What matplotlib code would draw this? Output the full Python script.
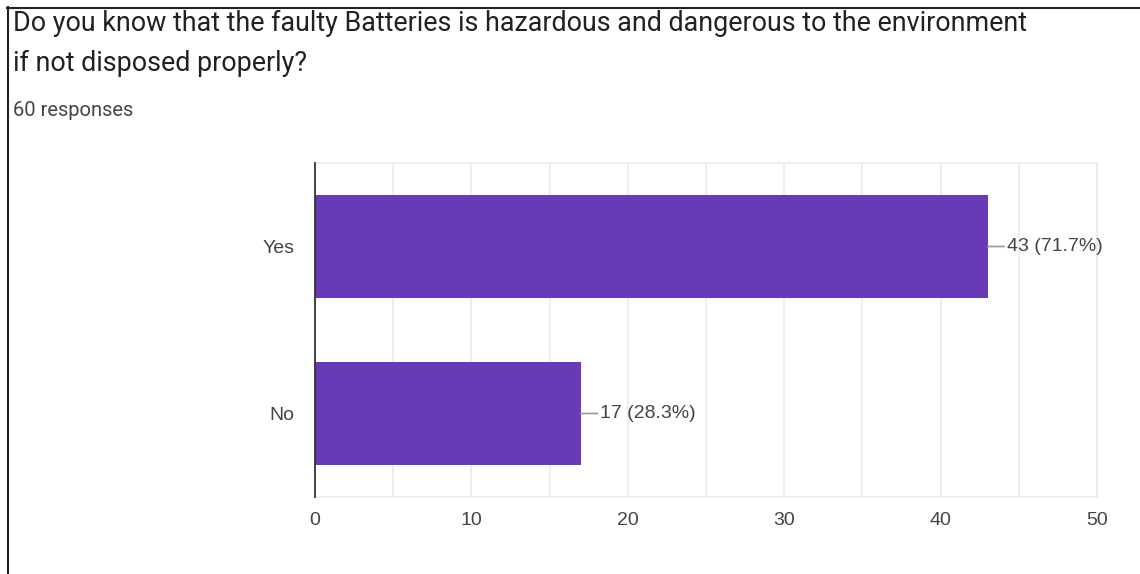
import matplotlib
matplotlib.use("Agg")
import matplotlib.pyplot as plt
from matplotlib.lines import Line2D

# Survey results
categories = ["Yes", "No"]
counts = [43, 17]
total_responses = 60
x_ticks = [0, 10, 20, 30, 40, 50]

title_lines = [
    "Do you know that the faulty Batteries is hazardous and dangerous to the environment",
    "if not disposed properly?",
]
subtitle = f"{total_responses} responses"

plt.rcParams["font.family"] = ["Roboto", "DejaVu Sans"]
chart_font = ["Liberation Sans", "DejaVu Sans"]

W, H = 1140, 574
fig = plt.figure(figsize=(W / 100, H / 100), dpi=100)
fig.patch.set_facecolor("white")

def fx(px):
    return px / W

def fy(py):
    return 1 - py / H

ax = fig.add_axes([fx(315), fy(497), fx(1097) - fx(315), fy(163) - fy(497)])

bar_color = "#673ab7"
text_color = "#444444"
grid_color = "#ebebeb"

ypos = list(range(len(categories)))
ax.barh(ypos, counts, height=0.62, color=bar_color, zorder=3)
ax.set_ylim(len(categories) - 0.5, -0.5)
ax.set_xlim(0, 50)

ax.set_xticks(x_ticks)
ax.set_xticks(range(0, 51, 5), minor=True)
ax.set_yticks(ypos)
ax.set_yticklabels(categories)
ax.tick_params(axis="both", length=0, which="both", labelsize=14, colors=text_color)
ax.tick_params(axis="x", pad=11)
ax.tick_params(axis="y", pad=15)
for lbl in ax.get_xticklabels() + ax.get_yticklabels():
    lbl.set_fontfamily(chart_font)
ax.grid(axis="x", which="both", color=grid_color, linewidth=1.2, zorder=0)

for side in ("top", "right", "bottom"):
    ax.spines[side].set_color(grid_color)
    ax.spines[side].set_linewidth(1.2)
ax.spines["left"].set_color("#333333")
ax.spines["left"].set_linewidth(1.3)
ax.spines["left"].set_zorder(4)

for i, c in enumerate(counts):
    pct = 100 * c / total_responses
    ax.annotate(
        f"{c} ({pct:.1f}%)",
        xy=(c, i), xytext=(14, 0), textcoords="offset points",
        va="center", ha="left", fontsize=14, color=text_color, family=chart_font,
        arrowprops=dict(arrowstyle="-", color="#999999", lw=1.2,
                        shrinkA=0, shrinkB=0),
    )

# Header text
fig.text(fx(13), fy(31), title_lines[0], fontsize=19.4, color="#202124", va="baseline")
fig.text(fx(13), fy(71), title_lines[1], fontsize=19.4, color="#202124", va="baseline")
fig.text(fx(13), fy(116), subtitle, fontsize=14.5, color="#444444", va="baseline")

# Frame edges at top and left
fig.add_artist(Line2D([fx(7.5), fx(7.5)], [0, fy(7)], color="#222222", lw=1.5,
                      transform=fig.transFigure))
fig.add_artist(Line2D([fx(7), 1], [fy(7.5), fy(7.5)], color="#222222", lw=1.5,
                      transform=fig.transFigure))

fig.savefig("out.png", dpi=100)
